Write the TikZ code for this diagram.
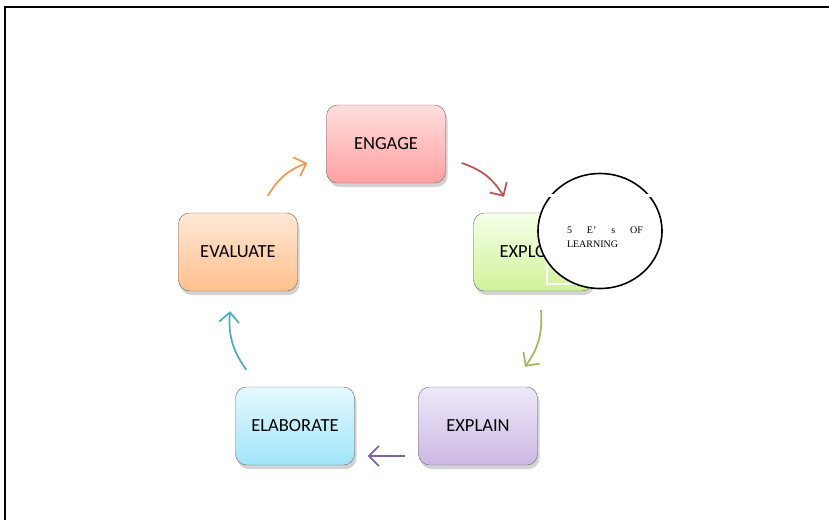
\documentclass[tikz,border=0pt]{standalone}
\usepackage{fontspec}
\usetikzlibrary{arrows.meta,shadows,shapes.geometric}
\newfontfamily\boxfont{Carlito}
\newfontfamily\circfont{Liberation Serif}

\tikzstyle{phase} = [rectangle, draw=gray!80!black, rounded corners=11pt,
    minimum width=119pt, minimum height=78pt, font=\boxfont\fontsize{18.5}{21}\selectfont,
    drop shadow={opacity=0.35, shadow xshift=2pt, shadow yshift=-4pt}]
\tikzstyle{turn} = [-{Straight Barb[length=10pt,width=20pt]}, line width=1.7pt, bend left=20]

\definecolor{redarr}{RGB}{192,80,77}
\definecolor{greenarr}{RGB}{155,187,89}
\definecolor{purplearr}{RGB}{128,100,162}
\definecolor{cyanarr}{RGB}{75,172,198}
\definecolor{orangearr}{RGB}{247,150,70}
\definecolor{engtop}{RGB}{255,222,222}
\definecolor{engbot}{RGB}{255,160,160}
\definecolor{exptop}{RGB}{246,255,232}
\definecolor{expbot}{RGB}{208,242,152}
\definecolor{plntop}{RGB}{238,232,248}
\definecolor{plnbot}{RGB}{204,184,228}
\definecolor{elbtop}{RGB}{228,249,255}
\definecolor{elbbot}{RGB}{160,228,250}
\definecolor{evatop}{RGB}{255,232,214}
\definecolor{evabot}{RGB}{255,192,140}

\begin{document}
\begin{tikzpicture}[x=1pt,y=-1pt]
  \useasboundingbox (0,0) rectangle (829,520);
  \draw[line width=1.8pt] (829,7) -- (5,7) -- (5,520);

  \node[phase, top color=engtop, bottom color=engbot] (engage)    at (386,144) {ENGAGE};
  \node[phase, top color=exptop, bottom color=expbot] (explore)   at (533,252) {EXPLORE};
  \node[phase, top color=plntop, bottom color=plnbot] (explain)   at (478,426) {EXPLAIN};
  \node[phase, top color=elbtop, bottom color=elbbot] (elaborate) at (295,426) {ELABORATE};
  \node[phase, top color=evatop, bottom color=evabot] (evaluate)  at (238,252) {EVALUATE};

  % arrow ends
  \coordinate (r1) at ([shift={(16,19)}]engage.east);
  \coordinate (r2) at ([shift={(-29,-16)}]explore.north);
  \coordinate (g1) at ([shift={(8,19)}]explore.south);
  \coordinate (g2) at ([shift={(47,-20)}]explain.north);
  \coordinate (p1) at ([shift={(-13,30)}]explain.west);
  \coordinate (p2) at ([shift={(13,30)}]elaborate.east);
  \coordinate (c1) at ([shift={(11,-17)}]elaborate.north west);
  \coordinate (c2) at ([shift={(-8,20)}]evaluate.south);
  \coordinate (o1) at ([shift={(30,-17)}]evaluate.north);
  \coordinate (o2) at ([shift={(-19,19)}]engage.west);

  \draw[turn, redarr]    (r1) to (r2);
  \draw[turn, greenarr]  (g1) to (g2);
  \draw[turn, purplearr, bend left=0] (p1) to (p2);
  \draw[turn, cyanarr]   (c1) to (c2);
  \draw[turn, orangearr] (o1) to (o2);

  % the round label
  \draw[white, line width=1.4pt] (547,195) rectangle (665,284);
  \node[ellipse, draw, line width=1.6pt, fill=white, minimum width=124pt, minimum height=115pt]
    (label) at (600,231) {};
  \draw[white, line width=3pt] (547,195) -- (665,195);
  \node[text width=76pt, align=left, font=\circfont\fontsize{10}{14}\selectfont]
    (labeltext) at (605,237) {5\hfill E’\hfill s\hfill OF\\LEARNING};
\end{tikzpicture}
\end{document}
